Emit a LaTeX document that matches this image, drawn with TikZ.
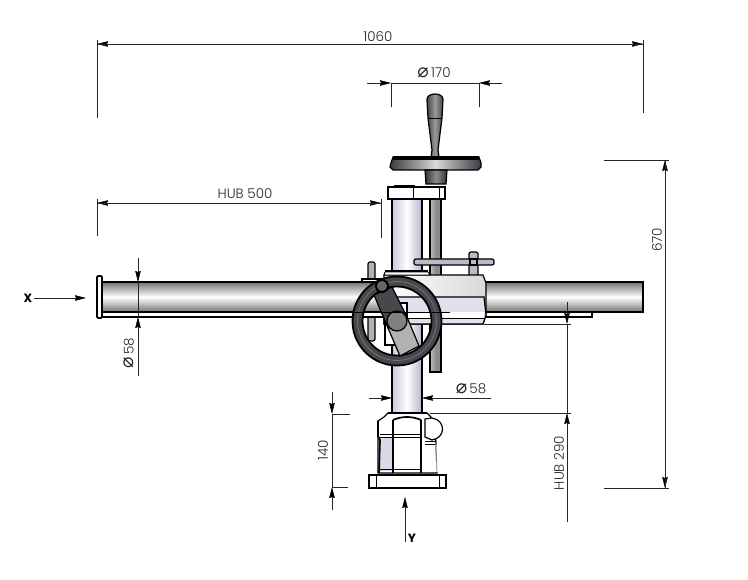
\documentclass[tikz,border=0pt]{standalone}
\usepackage{fontspec}
\setmainfont{Poppins}[UprightFont=* Light]
\newfontfamily\boldfont{Poppins}
\newfontfamily\symfont{DejaVu Sans}
\usetikzlibrary{arrows.meta}
\definecolor{lav}{HTML}{C9C9DE}
\definecolor{lavd}{HTML}{B4B4CC}
\definecolor{dk}{HTML}{3C3C42}
\definecolor{wheelc}{HTML}{48484C}
\newcommand{\dia}{{\symfont\fontsize{19}{19}\selectfont ⌀}}
\tikzset{
  x=1pt,y=-1pt,
  dim/.style={line width=0.55pt,black!85},
  tipA/.style={-{Stealth[length=11pt,width=5.5pt,inset=1pt,black]}},
  lbl/.style={font=\fontsize{13.5}{14}\selectfont,text=black!85,inner sep=0pt},
  part/.style={draw=black,line width=1.2pt},
  heavy/.style={draw=black,line width=1.7pt},
  tube/.style={part,top color=black!55,bottom color=black!55,middle color=white},
  col/.style={part,left color=lav,right color=lavd,middle color=white},
  bold/.style={font=\boldfont\bfseries\fontsize{12}{12}\selectfont,inner sep=0pt},
}
\begin{document}
\begin{tikzpicture}
\useasboundingbox (0,0) rectangle (748,580);
\fill[white] (0,0) rectangle (748,580);
% column
\draw[col] (392,199) rectangle (422,414);
% vertical rod
\draw[part,left color=black!25,right color=black!45,middle color=black!45] (430,199) rectangle (441,372);
% hand wheel top
\draw[part,left color=dk,right color=dk,middle color=black!40] (427,100) .. controls (426,92) and (444,92) .. (443,100) -- (442,118) -- (438,150) -- (439,157) -- (431,157) -- (432,150) -- (428,118) -- cycle;
\draw[black,line width=.8pt] (428,118) -- (442,118);
\draw[part,left color=dk,right color=dk,middle color=black!15] (391,163) -- (393,157) -- (479,157) -- (481,163) -- (481,167) -- (478,170) -- (393,170) -- (390,167) -- cycle;
\fill[black] (393,156) rectangle (479,160);
\draw[part,left color=black!80,right color=black!80,middle color=black!45] (425,170) -- (447,170) -- (446,184) -- (426,184) -- cycle;
% top collar
\draw[part,fill=white] (388,187) rectangle (445,199);
\draw[line width=.8pt] (413,187) -- (413,199) (439,187) -- (439,199);
\draw[line width=1.2pt] (394,186) -- (415,186);
% pin left (passes behind the tube)
\draw[part,fill=black!30,rounded corners=2pt] (368,262) rectangle (375,341);
% horizontal tube and rail
\draw[part,fill=white] (102,312) rectangle (592,317);
\draw[tube] (102,282) rectangle (643,312);
\draw[heavy,fill=white,rounded corners=1pt] (97,276) rectangle (102,318);
% T handle
\draw[part,fill=lav!80!gray,rounded corners=2pt] (469,252) rectangle (478,276);
\draw[part,fill=lav!80!gray,rounded corners=2pt] (414,259) rectangle (494,265);
\draw[part,fill=lav!80!gray] (470,259) rectangle (477,265);
% clamp body
\draw[part,fill=white] (362,279) -- (385,279) -- (385,282) -- (362,282) -- cycle;
\draw[part,left color=white,right color=black!15] (384,275) -- (483,275) -- (486,283) -- (486,315) -- (483,324) -- (384,324) -- cycle;
\draw[part,fill=lav!55] (384,297) -- (484,297) -- (486,315) -- (483,324) -- (384,324) -- cycle;
\fill[white] (384.6,312) rectangle (484,318);
\draw[line width=.8pt] (384,318) -- (484,318);
\draw[line width=.8pt,fill=white] (385,272) -- (428,272) -- (430,275) -- (384,275) -- cycle;
\draw[line width=1.4pt] (385,271) -- (428,271);
\draw[part,fill=white] (385,303) -- (407,303) -- (407,345) -- (385,345) -- cycle;
% handwheel
\fill[wheelc,even odd rule] (397,321) circle (44) (397,321) circle (35);
\draw[line width=1.8pt] (397,321) circle (44.5) (397,321) circle (34.5);
\draw[black!55,line width=.8pt] (397,321) circle (39.5);
% arm
\draw[part,fill=black!30] (388,328) -- (407,317) -- (419,346) -- (400,356) -- cycle;
\draw[part,fill=wheelc] (374,295) -- (392,287) -- (407,317) -- (388,328) -- cycle;
\draw[part,fill=black!50] (397,321) circle (10);
\draw[black,fill=black!60,line width=2pt] (382,286) circle (6);
\draw[line width=.7pt] (345,312) -- (450,312);
% base
\draw[part,fill=white] (378,421) -- (384,417) -- (388,413) -- (427,413) -- (431,417) -- (436,442) -- (437,473) -- (378,473) -- cycle;
\fill[lav!70] (380,438) rectangle (392,471);
\draw[heavy] (388,413) -- (427,413);
\draw[heavy] (393,420) .. controls (402,416) and (412,416) .. (421,420);
\draw[heavy] (378,421) -- (378,436) -- (380,440) -- (379,473);
\draw[heavy] (393,420) -- (393,473) (421,420) -- (421,473);
\draw[line width=.8pt] (380,434) -- (421,434) (380,437) -- (421,437) (380,469) -- (421,469);
\draw[white,line width=2pt] (437,445) -- (437,472);
\draw[black!50,line width=.8pt] (436,443) -- (437,473);
\draw[part,fill=white] (425,419) -- (432,418) .. controls (446,420) and (446,438) .. (432,440) -- (425,437) -- cycle;
\draw[line width=1pt] (425,441) -- (436,441) (425,444) -- (435,444);
\draw[heavy,fill=white] (369,475) rectangle (446,488);
\draw[line width=.8pt] (376,475) -- (376,488) (439,475) -- (439,488);
% dimensions: 1060
\draw[dim] (97,40) -- (97,118) (643,40) -- (643,113);
\draw[dim,tipA] (120,44) -- (97,44);
\draw[dim,tipA] (620,44) -- (643,44);
\draw[dim] (97,44) -- (643,44);
\node[lbl] (d1060) at (378,37) {1060};
% 170
\draw[dim] (391,83) -- (391,107) (479,83) -- (479,107) (391,83) -- (479,83);
\draw[dim,tipA] (367,83) -- (391,83);
\draw[dim,tipA] (502,83) -- (479,83);
\node[lbl] (d170) at (434,73) {\dia\,170};
% 500
\draw[dim] (97,199) -- (97,236) (381,199) -- (381,238);
\draw[dim,tipA] (120,203) -- (97,203);
\draw[dim,tipA] (358,203) -- (381,203);
\draw[dim] (97,203) -- (381,203);
\node[lbl] (d500) at (245,194) {HUB 500};
% 670
\draw[dim] (604,160) -- (669,160) (604,488) -- (669,488);
\draw[dim,tipA] (665,183) -- (665,160);
\draw[dim,tipA] (665,465) -- (665,488);
\draw[dim] (665,160) -- (665,488);
\node[lbl,rotate=90] (d670) at (657,240) {670};
% 58 left
\draw[dim,tipA] (138,258) -- (138,282);
\draw[dim] (138,282) -- (138,317);
\draw[dim,tipA] (138,376) -- (138,317);
\node[lbl,rotate=90] (d58a) at (129,353) {\dia\,58};
% 58 lower
\draw[dim,tipA] (369,398) -- (392,398);
\draw[dim,tipA] (491,398) -- (422,398);
\node[lbl] (d58b) at (471,389) {\dia\,58};
% 290
\draw[dim] (484,324) -- (571,324) (430,413) -- (571,413);
\draw[dim,tipA] (567,302) -- (567,324);
\draw[dim,tipA] (567,522) -- (567,413);
\draw[dim] (567,324) -- (567,413);
\node[lbl,rotate=90] (d290) at (559,463) {HUB 290};
% 140
\draw[dim] (332,414) -- (350,414) (332,487) -- (348,487);
\draw[dim,tipA] (332,392) -- (332,414);
\draw[dim,tipA] (332,510) -- (332,487);
\draw[dim] (332,414) -- (332,487);
\node[lbl,rotate=90] (d140) at (323,450) {140};
% X Y
\node[bold] (xl) at (28,298) {X};
\coordinate (xt) at (86,298);
\draw[dim,tipA] (xl.east) ++(2,0) -- (xt);
\node[bold] (yl) at (412,538) {Y};
\coordinate (yt) at (405,497);
\draw[dim,tipA] (405,542) -- (yt);
\end{tikzpicture}
\end{document}
